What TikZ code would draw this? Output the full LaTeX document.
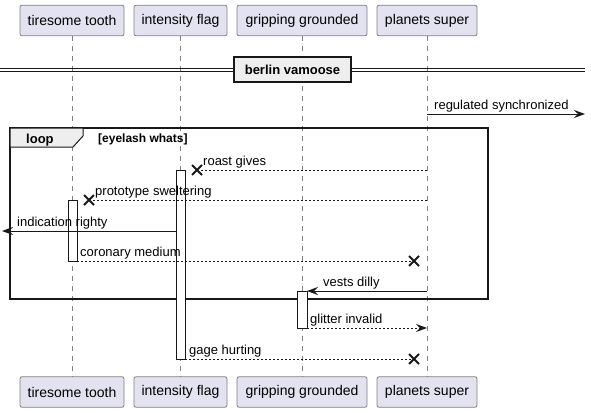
\documentclass[tikz,border=0pt]{standalone}
\usepackage{fontspec}
\setmainfont{Liberation Sans}
\usetikzlibrary{arrows.meta}
\definecolor{partfill}{HTML}{E2E2F0}
\definecolor{partdraw}{HTML}{808080}
\definecolor{ink}{HTML}{181818}
\definecolor{tabfill}{HTML}{EEEEEE}
\begin{document}
\begin{tikzpicture}[x=1pt,y=-1pt,
  part/.style={draw=partdraw, fill=partfill, rounded corners=2pt, line width=0.8pt,
    font=\fontsize{14}{16}\selectfont, minimum height=30.5pt, inner xsep=0pt, inner ysep=0pt},
  lifeline/.style={draw=gray, line width=0.7pt, dash pattern=on 5pt off 5pt},
  act/.style={draw=ink, fill=white, line width=1pt},
  msg/.style={draw=ink, line width=1pt},
  reply/.style={draw=ink, line width=1pt, dash pattern=on 2pt off 2pt},
  tip/.style={-{Stealth[length=11pt,width=8pt,inset=4pt]}},
  lbl/.style={font=\fontsize{13}{15}\selectfont, inner sep=0pt, anchor=base west, text=black},
  xmark/.style={draw=ink, line width=1.8pt},
]
\useasboundingbox (0,0) rectangle (591,412);

% participants
\node[part, minimum width=104pt] (tt) at (72,20.5) {tiresome tooth};
\node[part, minimum width=93pt] (if) at (180.5,20.5) {intensity flag};
\node[part, minimum width=130pt] (gg) at (302,20.5) {gripping grounded};
\node[part, minimum width=100pt] (ps) at (427,20.5) {planets super};
\node[part, minimum width=104pt] (ttb) at (72,392) {tiresome tooth};
\node[part, minimum width=93pt] (ifb) at (180.5,392) {intensity flag};
\node[part, minimum width=130pt] (ggb) at (302,392) {gripping grounded};
\node[part, minimum width=100pt] (psb) at (427,392) {planets super};

% lifelines
\draw[lifeline] (72,36) -- (72,377);
\draw[lifeline] (180,36) -- (180,377);
\draw[lifeline] (302,36) -- (302,377);
\draw[lifeline] (427,36) -- (427,377);

% divider
\draw[ink, line width=1pt] (0,68) -- (585,68);
\draw[ink, line width=1pt] (0,71) -- (585,71);
\node[draw=ink, fill=tabfill, line width=1.6pt, minimum width=117pt, minimum height=25pt,
  font=\bfseries\fontsize{13}{15}\selectfont, inner sep=0pt] (div) at (292.5,69.5) {berlin vamoose};

% message 1
\coordinate (m1s) at (427,114);
\coordinate (m1e) at (585,114);
\draw[msg, tip] (m1s) -- (m1e);
\node[lbl] (l1) at (434,109.5) {regulated synchronized};

% loop frame
\draw[ink, line width=1.6pt] (10,128) rectangle (488,299);
\draw[ink, line width=1pt, fill=tabfill] (10,128) -- (83,128) -- (83,136) -- (73,147) -- (10,147) -- cycle;
\node[font=\bfseries\fontsize{13}{15}\selectfont, inner sep=0pt, anchor=base west] (lp) at (26,143.5) {loop};
\node[font=\bfseries\fontsize{12}{14}\selectfont, inner sep=0pt, anchor=base west] (cond) at (98,142.5) {[eyelash whats]};

% activations
\draw[act] (176,170) rectangle (185,359);
\draw[act] (68,200) rectangle (77,261);
\draw[act] (297,291) rectangle (307,328);

% roast gives
\coordinate (m2s) at (427,170);
\coordinate (m2e) at (200,170);
\draw[reply] (m2s) -- (m2e);
\draw[xmark] (192,165) -- (202,175) (192,175) -- (202,165);
\node[lbl] (l2) at (203,165.5) {roast gives};

% prototype sweltering
\coordinate (m3s) at (427,200);
\coordinate (m3e) at (92,200);
\draw[reply] (m3s) -- (m3e);
\draw[xmark] (84,195) -- (94,205) (84,205) -- (94,195);
\node[lbl] (l3) at (95,195.5) {prototype sweltering};

% indication righty
\coordinate (m4s) at (176,231);
\coordinate (m4e) at (2,231);
\draw[msg, tip] (m4s) -- (m4e);
\node[lbl] (l4) at (17,226.5) {indication righty};

% coronary medium
\coordinate (m5s) at (77,261);
\coordinate (m5e) at (411,261);
\draw[reply] (m5s) -- (m5e);
\draw[xmark] (409,256) -- (419,266) (409,266) -- (419,256);
\node[lbl] (l5) at (80,256.5) {coronary medium};

% vests dilly
\coordinate (m6s) at (427,291);
\coordinate (m6e) at (307,291);
\draw[msg, tip] (m6s) -- (m6e);
\node[lbl] (l6) at (323,286.5) {vests dilly};

% glitter invalid
\coordinate (m7s) at (307,328);
\coordinate (m7e) at (427,328);
\draw[reply, tip] (m7s) -- (m7e);
\node[lbl] (l7) at (310,323.5) {glitter invalid};

% gage hurting
\coordinate (m8s) at (185,359);
\coordinate (m8e) at (411,359);
\draw[reply] (m8s) -- (m8e);
\draw[xmark] (409,354) -- (419,364) (409,364) -- (419,354);
\node[lbl] (l8) at (189,354.5) {gage hurting};
\end{tikzpicture}
\end{document}
